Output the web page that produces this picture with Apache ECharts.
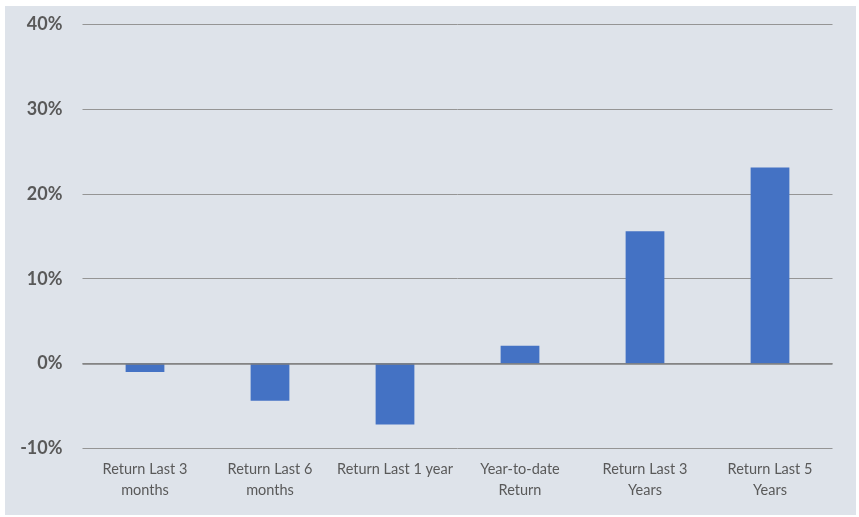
<!DOCTYPE html>
<html>
<head>
<meta charset="utf-8">
<script src="https://cdn.jsdelivr.net/npm/echarts@6/dist/echarts.min.js"></script>
<style>
html,body{margin:0;padding:0;background:#ffffff;}
#wrap{position:relative;width:859px;height:517px;background:#ffffff;}
#chart{position:absolute;left:5px;top:6px;width:851px;height:509px;background:#dee3ea;}
</style>
</head>
<body>
<div id="wrap"><div id="chart"></div></div>
<script>
const categories = ["Return Last 3\nmonths", "Return Last 6\nmonths", "Return Last 1 year", "Year-to-date\nReturn", "Return Last 3\nYears", "Return Last 5\nYears"];
const returns = [-1.0, -4.4, -7.2, 2.1, 15.6, 23.1];
const yMin = -10, yMax = 40, yStep = 10;

const chart = echarts.init(document.getElementById('chart'), null, {renderer: 'canvas'});
chart.setOption({
  backgroundColor: '#dee3ea',
  animation: false,
  grid: {left: 77.5, right: 23.5, top: 18.3, bottom: 66.7, containLabel: false},
  xAxis: {
    type: 'category',
    data: categories,
    axisLine: {show: false},
    axisTick: {show: false},
    axisLabel: {
      color: '#595959', fontFamily: 'Lato', fontSize: 14.5, lineHeight: 21, margin: 11, interval: 0
    }
  },
  yAxis: {
    type: 'value',
    min: yMin, max: yMax, interval: yStep,
    axisLine: {show: false},
    axisTick: {show: false},
    splitLine: {lineStyle: {color: '#959595', width: 1}},
    axisLabel: {
      formatter: '{value}%', color: '#595959', fontFamily: 'Lato', fontWeight: 'bold', fontSize: 18, margin: 20
    }
  },
  series: [{
    type: 'bar',
    data: returns,
    barWidth: '31%',
    itemStyle: {color: '#4472c4'},
    markLine: {
      silent: true, symbol: 'none', label: {show: false},
      lineStyle: {color: '#7f7f7f', width: 1.5, type: 'solid'},
      data: [{yAxis: 0}]
    }
  }]
});
</script>
</body>
</html>
